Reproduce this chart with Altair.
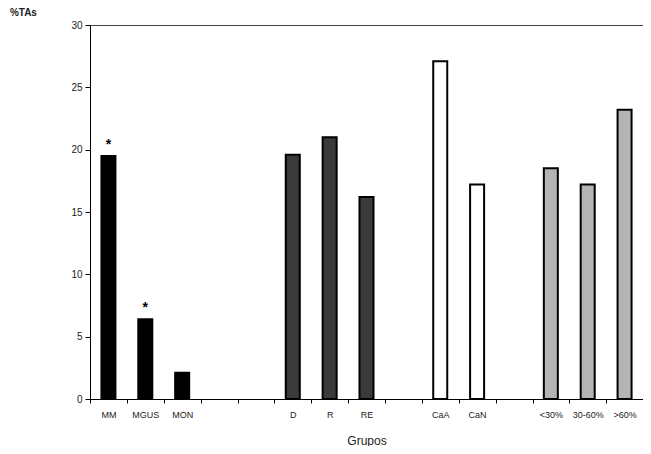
import altair as alt
import pandas as pd

slots = ["MM", "MGUS", "MON", " ", "  ", "D", "R", "RE", "   ",
         "CaA", "CaN", "    ", "<30%", "30-60%", ">60%"]
groups = ["MM", "MGUS", "MON", "D", "R", "RE", "CaA", "CaN", "<30%", "30-60%", ">60%"]
values = [19.5, 6.4, 2.1, 19.6, 21.0, 16.2, 27.1, 17.2, 18.5, 17.2, 23.2]
series = ["A", "A", "A", "B", "B", "B", "C", "C", "D", "D", "D"]
stars = ["*", "*", "", "", "", "", "", "", "", "", ""]

series_names = ["A", "B", "C", "D"]
series_fill = ["#000000", "#3a3a3a", "#ffffff", "#b4b4b4"]

df = pd.DataFrame({"grupo": groups, "valor": values, "serie": series, "star": stars})

x = alt.X("grupo:N",
          scale=alt.Scale(domain=slots, paddingInner=0.62),
          axis=alt.Axis(title="Grupos", labelAngle=0, tickOffset=-18.3, labelOffset=18.3,
                        tickSize=4, labelPadding=7, labelFontSize=9, titleFontSize=12,
                        titleFontWeight="normal", titlePadding=16,
                        domainColor="#000", tickColor="#000",
                        labelColor="#222", titleColor="#222"))
y = alt.Y("valor:Q", scale=alt.Scale(domain=[0, 30]),
          axis=alt.Axis(title=None, grid=False, values=[0, 5, 10, 15, 20, 25, 30],
                        tickSize=5, labelFontSize=10, labelPadding=3,
                        domainColor="#000", tickColor="#000", labelColor="#222"))

base = alt.Chart(df).encode(x=x, y=y)

bars = base.mark_bar(stroke="#000", strokeWidth=2).encode(
    fill=alt.Fill("serie:N", scale=alt.Scale(domain=series_names, range=series_fill), legend=None),
)

star_text = base.mark_text(fontSize=14, fontWeight="bold", dy=-4, baseline="bottom", color="#000").encode(
    text="star:N"
)

chart = alt.layer(bars, star_text).properties(
    width=635, height=438,
    autosize=alt.AutoSizeParams(type="fit", contains="padding"),
    padding={"left": 1, "top": 0, "right": 0, "bottom": 0},
    title=alt.TitleParams("%TAs", anchor="start", dx=-61, offset=2, fontSize=10,
                          fontWeight="bold", color="#222"),
).configure_view(stroke="#444")

chart.save("out.html", embed_options={"renderer": "svg", "actions": False})
